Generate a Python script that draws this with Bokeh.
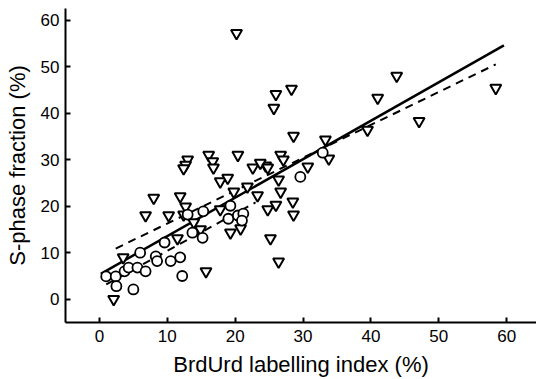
from bokeh.plotting import figure
from bokeh.models import FixedTicker, Range1d
from bokeh.embed import file_html
from bokeh.resources import INLINE

# Triangles (one group)
tri_x = [20.2, 43.8, 41.0, 28.3, 26.0, 25.7, 58.4, 47.1, 39.5, 28.6, 33.3, 33.8, 30.7,
         26.7, 27.1, 24.5, 26.4, 26.7, 26.0, 24.8, 28.5, 28.6, 25.2, 26.4,
         13.0, 12.7, 12.4, 16.1, 16.7, 16.8, 20.4, 22.6, 23.7, 24.8, 17.8, 18.9,
         19.8, 21.8, 23.3, 8.0, 11.9, 12.7, 6.8, 10.2, 17.8, 11.5, 13.9, 14.9,
         15.7, 19.3, 20.8, 2.1, 3.5, 12.4]
tri_y = [57.2, 48.0, 43.3, 45.2, 44.1, 41.1, 45.4, 38.3, 36.4, 35.1, 34.3, 30.2, 28.5,
         31.0, 30.0, 28.7, 25.7, 23.1, 20.3, 19.3, 21.0, 18.2, 13.1, 8.1,
         30.0, 28.9, 28.1, 31.0, 29.6, 28.3, 31.0, 28.3, 29.3, 28.3, 25.3, 26.1,
         23.1, 24.2, 22.3, 21.8, 22.1, 19.9, 18.0, 18.0, 19.3, 13.1, 16.5, 15.0,
         6.0, 14.3, 15.2, 0.0, 9.0, 18.2]

# Circles (other group)
cir_x = [1.0, 2.4, 2.5, 3.7, 4.3, 5.0, 6.0, 5.6, 6.8, 8.3, 8.5, 9.6, 10.5, 11.9, 12.2,
         13.0, 13.7, 15.2, 15.3, 19.3, 19.0, 20.4, 21.2, 21.0, 29.6, 32.9]
cir_y = [4.9, 4.9, 2.8, 6.0, 6.8, 2.1, 10.0, 6.8, 6.0, 9.2, 8.2, 12.2, 8.2, 9.0, 5.0,
         18.2, 14.3, 13.2, 18.9, 20.1, 17.3, 18.0, 18.4, 16.9, 26.3, 31.5]

# Regression lines: (x start, x end, intercept, slope)
fit_all = (0.2, 59.6, 5.3, 0.827)
fit_tri = (2.4, 58.4, 9.2, 0.707)
fit_cir = (1.0, 23.0, 2.4, 0.80)

x_ticks = [0, 10, 20, 30, 40, 50, 60]
y_ticks = [0, 10, 20, 30, 40, 50, 60]

FONT = "Liberation Sans"

p = figure(width=536, height=379, output_backend="svg", toolbar_location=None,
           x_range=Range1d(-5, 64.4), y_range=Range1d(-5, 62.5),
           min_border_left=65, min_border_bottom=56, min_border_top=8, min_border_right=0)
p.grid.visible = False
p.outline_line_color = None
p.background_fill_color = "white"

def seg(f):
    x0, x1, b, m = f
    return [x0, x1], [b + m * x0, b + m * x1]

xs, ys = seg(fit_all)
p.line(xs, ys, line_color="black", line_width=2.5)
xs, ys = seg(fit_tri)
p.line(xs, ys, line_color="black", line_width=2, line_dash="8 6")
xs, ys = seg(fit_cir)
p.line(xs, ys, line_color="black", line_width=2, line_dash="8 6")

p.scatter(tri_x, tri_y, marker="inverted_triangle", size=11, line_color="black",
          line_width=2, fill_color="white")
p.scatter(cir_x, cir_y, marker="circle", size=10, line_color="black",
          line_width=1.8, fill_color="white")

for ax in (p.xaxis[0], p.yaxis[0]):
    ax.axis_line_width = 2
    ax.major_tick_line_width = 2
    ax.major_tick_in = 5
    ax.major_tick_out = 0
    ax.minor_tick_line_color = None
    ax.major_label_text_font = FONT
    ax.major_label_text_font_size = "17px"
    ax.major_label_text_color = "black"
    ax.axis_label_text_font = FONT
    ax.axis_label_text_font_size = "22px"
    ax.axis_label_text_font_style = "normal"
    ax.axis_label_text_color = "black"

p.xaxis.ticker = FixedTicker(ticks=x_ticks)
p.yaxis.ticker = FixedTicker(ticks=y_ticks)
p.xaxis.axis_label = "BrdUrd labelling index (%)"
p.yaxis.axis_label = "S-phase fraction (%)"
p.xaxis.major_label_standoff = 7
p.yaxis.major_label_standoff = 6
p.xaxis.axis_label_standoff = 7
p.yaxis.axis_label_standoff = 8

open("out.html", "w").write(file_html(p, INLINE))
